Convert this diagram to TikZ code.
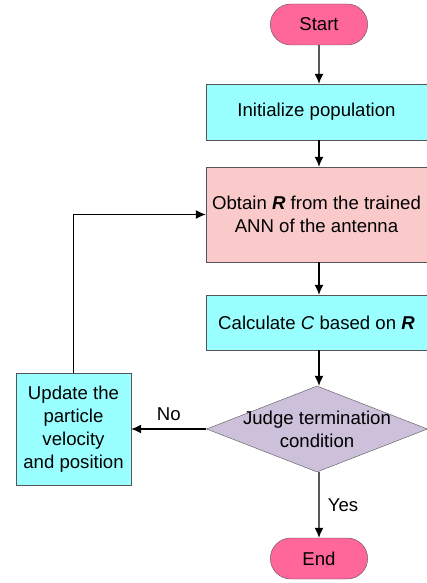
\documentclass[tikz,border=0pt]{standalone}
\usepackage{fontspec}
\setmainfont{Liberation Sans}
\usepackage{tikz}
\usetikzlibrary{shapes.misc}
\usetikzlibrary{shapes.geometric}
\usetikzlibrary{arrows.meta}
\definecolor{termpink}{HTML}{FF6699}
\definecolor{boxcyan}{HTML}{99FFFF}
\definecolor{boxrose}{HTML}{FACACA}
\definecolor{judgelilac}{HTML}{CCC0DA}
\definecolor{edgegray}{HTML}{555555}

\begin{document}
\begin{tikzpicture}[x = 1pt, y = 1pt, font = \fontsize{18.6}{23}\selectfont,
  term/.style = {rounded rectangle, draw = edgegray, fill = termpink, minimum width = 104pt, minimum height = 41pt},
  proc/.style = {rectangle, draw = edgegray, fill = boxcyan, align = center, inner sep = 0pt},
  judge/.style = {diamond, draw = edgegray, fill = judgelilac, minimum width = 221pt, minimum height = 86pt, inner sep = 0pt},
  arr/.style = {-{Latex[length = 10pt, width = 9pt]}, line width = 1.2pt}]
  \useasboundingbox (0, 0) rectangle (427, -583);
  \node[term] at (319, -24.5) (start) {Start};
  \node[proc, minimum width = 221pt, minimum height = 56pt] at (316.5, -112) (init) {Initialize population};
  \node[proc, fill = boxrose, minimum width = 221pt, minimum height = 95pt] at (316.5, -214.5) (obtain) {Obtain \textbf{\textit{R}} from the trained\\ANN of the antenna};
  \node[proc, minimum width = 221pt, minimum height = 55pt] at (316.5, -322.5) (calc) {Calculate \textit{C} based on \textbf{\textit{R}}};
  \node[judge, label = {[align = center]center:{Judge termination\\condition}}] at (317, -429) (cond) {};
  \node[proc, minimum width = 115pt, minimum height = 112pt] at (73.5, -429) (update) {Update the\\particle\\velocity\\and position};
  \node[term] at (319, -558.5) (end) {End};
  \draw[arr] (start) -- (start |- init.north);
  \draw[arr] (start |- init.south) -- (start |- obtain.north);
  \draw[arr] (start |- obtain.south) -- (start |- calc.north);
  \draw[arr] (start |- calc.south) -- (start |- cond.north);
  \draw[arr] (cond.west) -- (update.east) node [midway, above = 4pt] {No};
  \draw[arr] (update.north) |- (obtain.west);
  \draw[arr] (start |- cond.south) -- (end) node [midway, right = 5pt] {Yes};
\end{tikzpicture}
\end{document}
